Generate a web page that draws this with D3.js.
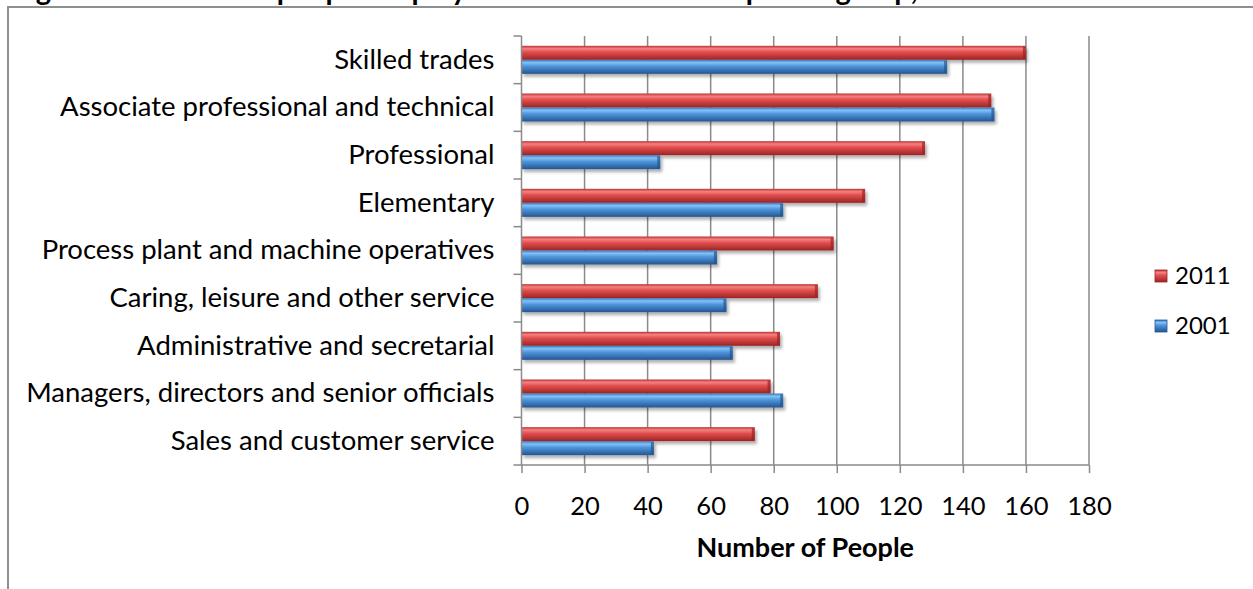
<!DOCTYPE html>
<html>
<head>
<meta charset="utf-8">
<script src="https://cdn.jsdelivr.net/npm/d3@7"></script>
<style>
  body { margin: 0; background: #fff; }
  svg { display: block; }
</style>
</head>
<body>
<div id="viz"></div>
<script>
const categories = [
  "Skilled trades",
  "Associate professional and technical",
  "Professional",
  "Elementary",
  "Process plant and machine operatives",
  "Caring, leisure and other service",
  "Administrative and secretarial",
  "Managers, directors and senior officials",
  "Sales and customer service",
];
const seriesNames = ["2011", "2001"];
const values2011 = [160, 149, 128, 109, 99, 94, 82, 79, 74];
const values2001 = [135, 150, 44, 83, 62, 65, 67, 83, 42];
const xTicks = [0, 20, 40, 60, 80, 100, 120, 140, 160, 180];
const titleText = "Figure 1: Number of people employed in each broad occupation group, 2001 and 2011";
const xTitle = "Number of People";

const config = {
  width: 1253,
  height: 589,
  left: 521.5,
  right: 1089,
  top: 36,
  bottom: 465,
  tickLen: 8,
  gridColor: "#8a8a8a",
  font: "Lato, 'Open Sans', sans-serif",
  catSize: 27.5,
  tickSize: 25.5,
  gap: 0.412,
};

const colors = {
  "2011": ["#b83434", "#f68080", "#e24e4e", "#9a2424"],
  "2001": ["#3576bd", "#84c2f5", "#4f95dc", "#24558f"],
};

const svg = d3
  .select("#viz")
  .append("svg")
  .attr("width", config.width)
  .attr("height", config.height);

const defs = svg.append("defs");

seriesNames.forEach((name) => {
  const c = colors[name];
  const g = defs
    .append("linearGradient")
    .attr("id", "grad" + name)
    .attr("x1", 0).attr("y1", 0).attr("x2", 0).attr("y2", 1);
  [[0, c[0]], [0.2, c[1]], [0.45, c[2]], [1, c[3]]].forEach(([o, col]) => {
    g.append("stop").attr("offset", o).attr("stop-color", col);
  });
});

defs
  .append("filter")
  .attr("id", "shadow")
  .attr("x", "-5%").attr("y", "-30%").attr("width", "115%").attr("height", "190%")
  .append("feDropShadow")
  .attr("dx", 2).attr("dy", 3).attr("stdDeviation", 1.8)
  .attr("flood-color", "#000").attr("flood-opacity", 0.3);

// outer chart frame (partly outside the window)
svg
  .append("path")
  .attr("d", `M8,${config.height} V7 H${config.width}`)
  .attr("fill", "none")
  .attr("stroke", "#8f8f8f")
  .attr("stroke-width", 2);

// title, cut by the top of the window as in the source
svg
  .append("text")
  .attr("x", 12)
  .attr("y", 0)
  .attr("font-family", config.font)
  .attr("font-weight", "bold")
  .attr("font-size", 29)
  .attr("fill", "#000")
  .text(titleText);

const x = d3.scaleLinear().domain([0, 180]).range([config.left, config.right]);

const y = d3
  .scaleBand()
  .domain(categories)
  .range([config.top, config.bottom])
  .paddingInner(config.gap)
  .paddingOuter(config.gap / 2);

const ySeries = d3.scaleBand().domain(seriesNames).range([0, y.bandwidth()]);

// vertical gridlines
svg
  .append("g")
  .selectAll("line")
  .data(xTicks.slice(1))
  .join("line")
  .attr("x1", (d) => x(d))
  .attr("x2", (d) => x(d))
  .attr("y1", config.top)
  .attr("y2", config.bottom)
  .attr("stroke", config.gridColor)
  .attr("stroke-width", 1.5);

// bars
const rows = categories.map((c, i) => ({
  category: c,
  "2011": values2011[i],
  "2001": values2001[i],
}));

const barGroups = svg
  .append("g")
  .selectAll("g")
  .data(rows)
  .join("g")
  .attr("transform", (d) => `translate(0,${y(d.category)})`);

const bars = barGroups
  .selectAll("g")
  .data((d) => seriesNames.map((s) => ({ series: s, value: d[s] })))
  .join("g")
  .attr("filter", "url(#shadow)");

bars
  .append("rect")
  .attr("x", x(0))
  .attr("y", (d) => ySeries(d.series))
  .attr("width", (d) => x(d.value) - x(0))
  .attr("height", ySeries.bandwidth())
  .attr("fill", (d) => `url(#grad${d.series})`);

// darker bevelled end cap
bars
  .append("rect")
  .attr("x", (d) => x(d.value) - 3)
  .attr("y", (d) => ySeries(d.series) + 1)
  .attr("width", 3)
  .attr("height", ySeries.bandwidth() - 2)
  .attr("fill", (d) => colors[d.series][3])
  .attr("opacity", 0.7);

// x axis
const xAxis = svg
  .append("g")
  .attr("transform", `translate(0,${config.bottom})`)
  .call(
    d3.axisBottom(x).tickValues(xTicks).tickSize(config.tickLen).tickPadding(24).tickSizeOuter(0)
  );
xAxis.select(".domain").remove();
xAxis.selectAll(".tick line").attr("stroke", config.gridColor).attr("stroke-width", 1.5);
xAxis
  .selectAll(".tick text")
  .attr("font-family", config.font)
  .attr("font-size", config.tickSize)
  .attr("fill", "#000");

svg
  .append("line")
  .attr("x1", config.left - config.tickLen)
  .attr("x2", config.right)
  .attr("y1", config.bottom)
  .attr("y2", config.bottom)
  .attr("stroke", config.gridColor)
  .attr("stroke-width", 1.5);

// y axis with ticks on category boundaries
svg
  .append("line")
  .attr("x1", config.left)
  .attr("x2", config.left)
  .attr("y1", config.top)
  .attr("y2", config.bottom)
  .attr("stroke", config.gridColor)
  .attr("stroke-width", 1.5);

svg
  .append("g")
  .selectAll("line")
  .data(d3.range(categories.length))
  .join("line")
  .attr("x1", config.left - config.tickLen)
  .attr("x2", config.left)
  .attr("y1", (i) => config.top + i * y.step())
  .attr("y2", (i) => config.top + i * y.step())
  .attr("stroke", config.gridColor)
  .attr("stroke-width", 1.5);

const yAxis = svg
  .append("g")
  .attr("transform", `translate(${config.left},0)`)
  .call(d3.axisLeft(y).tickSize(0).tickPadding(27));
yAxis.select(".domain").remove();
yAxis
  .selectAll(".tick text")
  .attr("font-family", config.font)
  .attr("font-size", config.catSize)
  .attr("fill", "#000");

// axis title
svg
  .append("text")
  .attr("x", (config.left + config.right) / 2)
  .attr("y", 557)
  .attr("text-anchor", "middle")
  .attr("font-family", config.font)
  .attr("font-weight", "bold")
  .attr("font-size", 27)
  .attr("fill", "#000")
  .text(xTitle);

// legend
const legend = svg
  .append("g")
  .selectAll("g")
  .data(seriesNames)
  .join("g")
  .attr("transform", (d, i) => `translate(1155,${276 + i * 50})`);

legend
  .append("rect")
  .attr("x", 0)
  .attr("y", -6)
  .attr("width", 12)
  .attr("height", 12)
  .attr("fill", (d) => `url(#grad${d})`)
  .attr("stroke", (d) => colors[d][3])
  .attr("stroke-width", 0.8);

legend
  .append("text")
  .attr("x", 20)
  .attr("y", 0)
  .attr("dy", "0.35em")
  .attr("font-family", config.font)
  .attr("font-size", 24)
  .attr("fill", "#000")
  .text((d) => d);
</script>
</body>
</html>
